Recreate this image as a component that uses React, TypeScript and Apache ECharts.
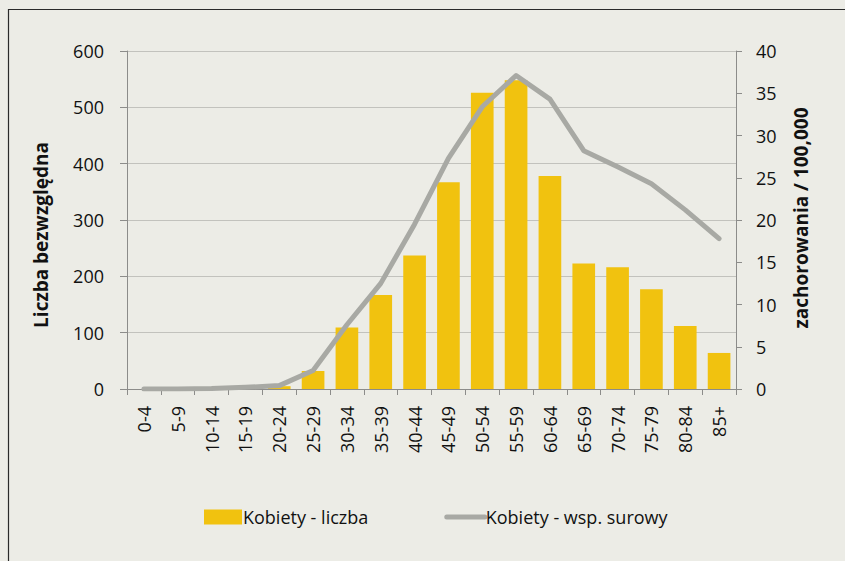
import React, { useEffect, useRef } from "react";
import * as echarts from "echarts";

const categories = ["0-4","5-9","10-14","15-19","20-24","25-29","30-34","35-39","40-44","45-49","50-54","55-59","60-64","65-69","70-74","75-79","80-84","85+"];
const countValues = [0, 0, 1, 2, 5, 32, 109, 167, 237, 367, 526, 548, 378, 223, 216, 177, 112, 64];
const rateValues = [0, 0, 0.05, 0.2, 0.4, 2.2, 7.6, 12.5, 19.5, 27.3, 33.4, 37.1, 34.3, 28.2, 26.3, 24.3, 21.2, 17.8];
const leftTicks = { min: 0, max: 600, interval: 100 };
const rightTicks = { min: 0, max: 40, interval: 5 };
const seriesNames = ["Kobiety - liczba", "Kobiety - wsp. surowy"];
const leftTitle = "Liczba bezwzględna";
const rightTitle = "zachorowania / 100,000";

const FONT = "'Open Sans', sans-serif";
const TXT = "#111111";
const AXIS = "#8c8c8a";
const GRID = "#c2c2bd";
const LINE = "#a8a9a4";

export default function App() {
  const ref = useRef<HTMLDivElement>(null);
  useEffect(() => {
    if (!ref.current) return;
    const chart = echarts.init(ref.current, null, { renderer: "svg" });
    chart.setOption({
      animation: false,
      backgroundColor: "#ecece6",
      textStyle: { fontFamily: FONT },
      grid: { left: 127, right: 109, top: 51, bottom: 172, containLabel: false },
      legend: {
        left: 199,
        top: 503,
        itemGap: 76,
        itemWidth: 38,
        itemHeight: 15,
        textStyle: { fontFamily: FONT, fontSize: 18, color: TXT, padding: [0, 0, 0, -4] },
        data: [
          { name: seriesNames[0], icon: "rect" },
          { name: seriesNames[1], itemStyle: { opacity: 0 }, lineStyle: { width: 5, color: LINE, cap: "round" } },
        ],
      },
      graphic: [
        {
          type: "rect",
          shape: { x: 8.5, y: 9.5, width: 900, height: 600 },
          style: { fill: "none", stroke: "#2a2a2a", lineWidth: 1.2 },
          silent: true,
        },
        {
          type: "text",
          x: 41,
          y: 235,
          rotation: Math.PI / 2,
          style: { text: leftTitle, fontFamily: FONT, fontWeight: "bold", fontSize: 19, fill: TXT, align: "center", verticalAlign: "middle" },
        },
        {
          type: "text",
          x: 801,
          y: 218,
          rotation: Math.PI / 2,
          style: { text: rightTitle, fontFamily: FONT, fontWeight: "bold", fontSize: 19, fill: TXT, align: "center", verticalAlign: "middle" },
        },
      ],
      xAxis: {
        type: "category",
        data: categories,
        axisLine: { lineStyle: { color: AXIS, width: 1 } },
        axisTick: { show: true, alignWithLabel: false, length: 6, lineStyle: { color: AXIS } },
        axisLabel: { rotate: 90, interval: 0, margin: 17, fontFamily: FONT, fontSize: 18, color: TXT },
      },
      yAxis: [
        {
          type: "value",
          min: leftTicks.min,
          max: leftTicks.max,
          interval: leftTicks.interval,
          position: "left",
          axisLine: { show: true, lineStyle: { color: AXIS } },
          axisTick: { show: true, length: 7, lineStyle: { color: AXIS } },
          axisLabel: { margin: 23, fontFamily: FONT, fontSize: 18, color: TXT },
          splitLine: { show: true, lineStyle: { color: GRID, width: 1 } },
        },
        {
          type: "value",
          min: rightTicks.min,
          max: rightTicks.max,
          interval: rightTicks.interval,
          position: "right",
          axisLine: { show: true, lineStyle: { color: AXIS } },
          axisTick: { show: true, length: 6, lineStyle: { color: AXIS } },
          axisLabel: { margin: 20, fontFamily: FONT, fontSize: 18, color: TXT },
          splitLine: { show: false },
        },
      ],
      series: [
        {
          name: seriesNames[0],
          type: "bar",
          yAxisIndex: 0,
          data: countValues,
          barCategoryGap: "33%",
          itemStyle: { color: "#f1c20f" },
        },
        {
          name: seriesNames[1],
          type: "line",
          yAxisIndex: 1,
          data: rateValues,
          symbol: "none",
          lineStyle: { color: LINE, width: 5, cap: "round", join: "round" },
          itemStyle: { color: LINE },
        },
      ],
    });
    return () => chart.dispose();
  }, []);
  return <div ref={ref} style={{ position: "fixed", left: 0, top: 0, width: 845, height: 561 }} />;
}
